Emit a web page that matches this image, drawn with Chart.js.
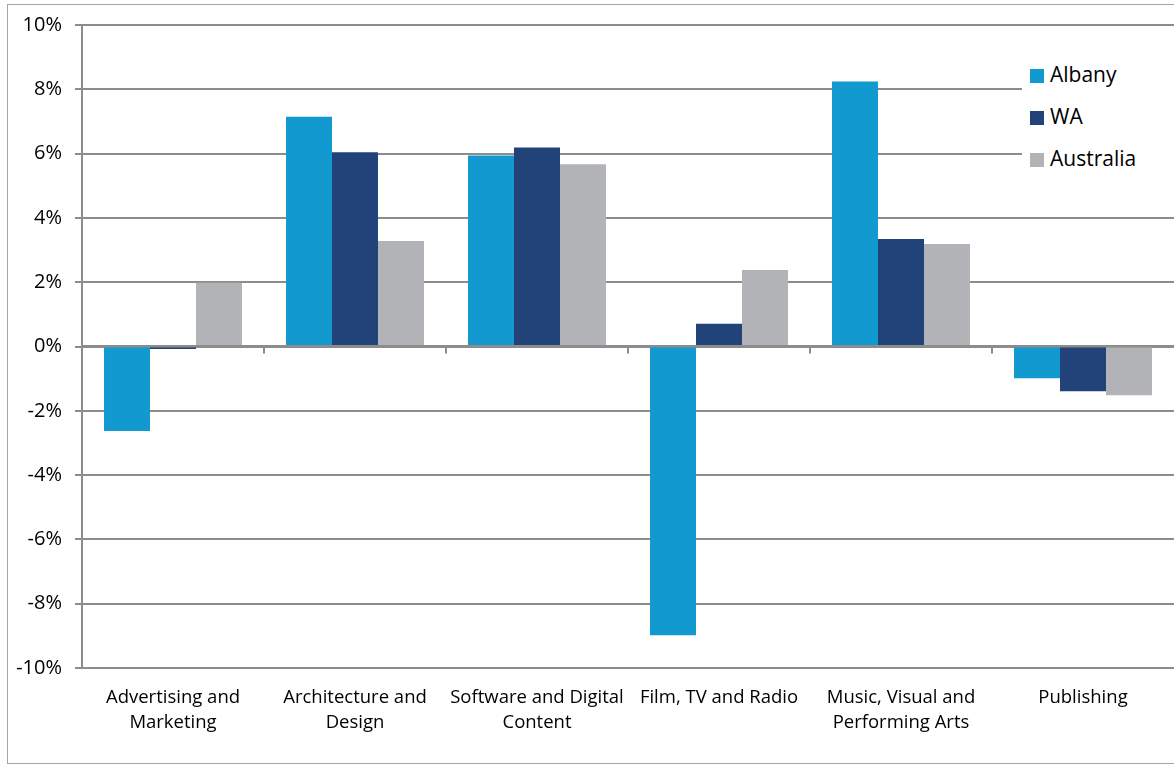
<!DOCTYPE html>
<html>
<head>
<meta charset="utf-8">
<script src="https://cdn.jsdelivr.net/npm/chart.js@4.4.1/dist/chart.umd.min.js"></script>
<style>
  html, body { margin: 0; padding: 0; background: #fff; }
  #wrap { position: relative; width: 1174px; height: 767px; overflow: hidden; }
  #frame { position: absolute; left: 7px; top: 4px; width: 1200px; height: 760px; border: 1px solid #a6a6a6; box-sizing: border-box; pointer-events: none; }
  canvas { position: absolute; left: 0; top: 0; }
  #legend { position: absolute; left: 1022px; top: 56px; width: 152px; height: 124px; background: #fff;
            font-family: "Open Sans", sans-serif; font-size: 21px; color: #000; }
  .item { position: absolute; left: 8px; height: 26px; line-height: 26px; white-space: nowrap; }
  .sw { display: inline-block; width: 14px; height: 14px; vertical-align: -1px; margin-right: 6px; }
</style>
</head>
<body>
<div id="wrap">
  <canvas id="c" width="1174" height="767"></canvas>
  <div id="frame"></div>
  <div id="legend"></div>
</div>
<script>
const categories = [
  ["Advertising and", "Marketing"],
  ["Architecture and", "Design"],
  ["Software and Digital", "Content"],
  "Film, TV and Radio",
  ["Music, Visual and", "Performing Arts"],
  "Publishing"
];
const seriesNames = ["Albany", "WA", "Australia"];
const albany    = [-2.63, 7.15, 5.94, -8.98, 8.24, -0.99];
const wa        = [-0.08, 6.04, 6.19, 0.71, 3.34, -1.39];
const australia = [1.98, 3.28, 5.67, 2.38, 3.19, -1.52];
const colors = ["#1199d0", "#22427a", "#b2b3b7"];
const yTicks = [-10, -8, -6, -4, -2, 0, 2, 4, 6, 8, 10];

const FONT = "'Open Sans', sans-serif";

const zeroTicks = {
  id: 'zeroTicks',
  afterDatasetsDraw(chart) {
    const x = chart.scales.x, y = chart.scales.y, ctx = chart.ctx;
    const y0 = y.getPixelForValue(0);
    ctx.save();
    ctx.strokeStyle = '#8c8c8c';
    ctx.lineWidth = 2;
    ctx.beginPath();
    ctx.moveTo(x.left, y0 - 0.5); ctx.lineTo(x.right, y0 - 0.5);
    const n = categories.length;
    for (let i = 1; i < n; i++) {
      const px = (x.getPixelForValue(i - 1) + x.getPixelForValue(i)) / 2;
      ctx.moveTo(px, y0); ctx.lineTo(px, y0 + 7);
    }
    ctx.stroke();
    ctx.restore();
  }
};

const datasets = [albany, wa, australia].map((d, i) => ({
  label: seriesNames[i],
  data: d,
  backgroundColor: colors[i],
  borderWidth: 0,
  categoryPercentage: 0.758,
  barPercentage: 1.0
}));

new Chart(document.getElementById('c'), {
  type: 'bar',
  data: { labels: categories, datasets },
  options: {
    responsive: false,
    animation: false,
    layout: { padding: { top: 22, right: 0, bottom: 0, left: 0 } },
    plugins: { legend: { display: false }, tooltip: { enabled: false } },
    scales: {
      x: {
        grid: { display: false, drawTicks: false },
        border: { display: false },
        ticks: { font: { family: FONT, size: 18.5, lineHeight: 1.36 }, color: '#000', padding: 17, maxRotation: 0, autoSkip: false },
        afterFit(s) { s.height = 99; }
      },
      y: {
        min: -10, max: 10,
        afterBuildTicks(s) { s.ticks = yTicks.map(v => ({ value: v })); },
        grid: { color: '#8c8c8c', lineWidth: 2, tickLength: 7 },
        border: { display: true, color: '#8c8c8c', width: 2 },
        ticks: { font: { family: FONT, size: 20 }, color: '#000', padding: 13, callback: v => v + '%' },
        afterFit(s) { s.width = 82; }
      }
    }
  },
  plugins: [zeroTicks]
});

const leg = document.getElementById('legend');
seriesNames.forEach((n, i) => {
  const d = document.createElement('div');
  d.className = 'item';
  d.style.top = (5 + i * 42) + 'px';
  d.innerHTML = '<span class="sw" style="background:' + colors[i] + '"></span>' + n;
  leg.appendChild(d);
});
</script>
</body>
</html>
